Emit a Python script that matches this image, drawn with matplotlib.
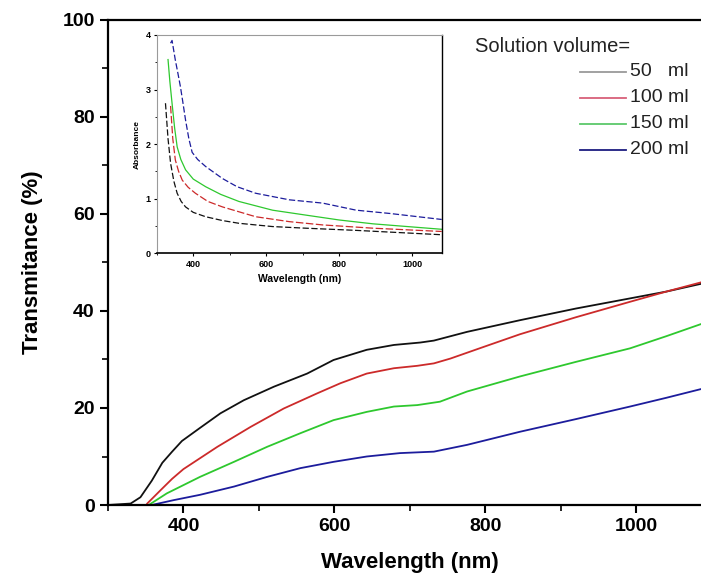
import matplotlib

matplotlib.use("Agg")
import matplotlib.pyplot as plt
from matplotlib.ticker import MultipleLocator

plt.rcParams["font.family"] = ["Liberation Sans", "DejaVu Sans"]

# main panel: transmittance (%) vs wavelength (nm)
WL_50 = [300, 330, 343, 358, 372, 385, 398, 422, 449, 480, 520, 564, 599, 643, 679, 714, 732, 776, 846, 920, 992, 1040, 1086]
T_50 = [0.0, 0.3, 1.6, 5.0, 8.7, 11.0, 13.2, 15.9, 18.9, 21.6, 24.4, 27.1, 29.9, 32.0, 33.0, 33.5, 33.9, 35.7, 38.1, 40.5, 42.6, 44.0, 45.6]

WL_100 = [352, 370, 385, 400, 445, 489, 533, 577, 608, 643, 679, 710, 732, 754, 798, 846, 920, 992, 1040, 1086]
T_100 = [0.3, 3.1, 5.4, 7.4, 12.0, 16.1, 19.9, 23.0, 25.1, 27.1, 28.2, 28.7, 29.2, 30.2, 32.6, 35.2, 38.7, 41.9, 44.0, 45.9]

WL_150 = [356, 378, 422, 467, 511, 555, 599, 643, 679, 710, 740, 776, 846, 920, 992, 1040, 1086]
T_150 = [0.2, 2.4, 5.8, 8.9, 12.0, 14.8, 17.5, 19.2, 20.3, 20.6, 21.3, 23.4, 26.5, 29.5, 32.3, 34.8, 37.3]

WL_200 = [361, 387, 422, 467, 511, 555, 599, 643, 687, 732, 776, 846, 920, 992, 1040, 1086]
T_200 = [0.1, 1.0, 2.1, 3.8, 5.8, 7.6, 8.9, 10.0, 10.7, 11.0, 12.4, 15.1, 17.7, 20.3, 22.1, 23.9]

# inset: absorbance vs wavelength (nm)
IWL_50 = [324, 331, 338, 347, 356, 367, 379, 400, 434, 480, 525, 617, 708, 846, 1080]
A_50 = [2.75, 2.10, 1.65, 1.32, 1.10, 0.95, 0.85, 0.75, 0.67, 0.60, 0.55, 0.49, 0.46, 0.42, 0.34]
IWL_100 = [338, 344, 351, 360, 370, 386, 406, 440, 480, 571, 663, 754, 892, 1080]
A_100 = [2.70, 2.10, 1.71, 1.50, 1.34, 1.21, 1.10, 0.95, 0.85, 0.67, 0.58, 0.52, 0.46, 0.40]
IWL_150 = [331, 336, 342, 349, 356, 366, 379, 400, 434, 475, 525, 617, 708, 800, 892, 1080]
A_150 = [3.55, 3.15, 2.75, 2.30, 1.95, 1.72, 1.53, 1.36, 1.22, 1.08, 0.95, 0.79, 0.70, 0.61, 0.54, 0.44]
IWL_200 = [338, 342, 351, 358, 365, 372, 379, 388, 397, 412, 434, 480, 520, 571, 663, 754, 846, 938, 1080]
A_200 = [3.85, 3.90, 3.54, 3.30, 3.05, 2.75, 2.44, 2.10, 1.85, 1.72, 1.59, 1.37, 1.22, 1.10, 0.98, 0.92, 0.79, 0.73, 0.62]

LABELS = ["50   ml", "100 ml", "150 ml", "200 ml"]
COLORS = ["#111111", "#cc2a2a", "#2ec82e", "#1c1c9c"]
LEG_COLORS = ["#9a9a9a", "#d8607a", "#5cc86a", "#1c1c80"]

fig = plt.figure(figsize=(7.01, 5.85), dpi=100)
ax = fig.add_axes([108 / 701, 80 / 585, 603.5 / 701, 485 / 585])

main = [(WL_50, T_50), (WL_100, T_100), (WL_150, T_150), (WL_200, T_200)]
for (x, y), c in zip(main, COLORS):
    ax.plot(x, y, color=c, linewidth=1.3)

ax.set_xlim(300, 1100)
ax.set_ylim(0, 100)
ax.xaxis.set_major_locator(MultipleLocator(200))
ax.xaxis.set_minor_locator(MultipleLocator(100))
ax.yaxis.set_major_locator(MultipleLocator(20))
ax.yaxis.set_minor_locator(MultipleLocator(10))
ax.tick_params(which="major", direction="out", length=6, width=1.5, labelsize=14)
ax.tick_params(which="minor", direction="out", length=4, width=1.2)
for lab in ax.get_xticklabels() + ax.get_yticklabels():
    lab.set_fontweight("bold")
for sp in ax.spines.values():
    sp.set_linewidth(1.6)
ax.set_xlabel("Wavelength (nm)", fontsize=16, fontweight="bold", labelpad=12)
ax.set_ylabel("Transmitance (%)", fontsize=16, fontweight="bold", labelpad=14)

# legend drawn by hand in figure coords
fig.text(475 / 701, 1 - 46 / 585, "Solution volume=", fontsize=14.5, va="center", color="#222")
for i, (lab, c) in enumerate(zip(LABELS, LEG_COLORS)):
    yf = 1 - (72 + i * 26) / 585
    fig.add_artist(plt.Line2D([580 / 701, 626 / 701], [yf, yf], color=c, linewidth=1.3,
                              transform=fig.transFigure))
    fig.text(630 / 701, yf, lab, fontsize=14, va="center", color="#222")

ins = fig.add_axes([156.7 / 701, 1 - 253.3 / 585, 285 / 701, 218.3 / 585])
inset = [(IWL_50, A_50), (IWL_100, A_100), (IWL_150, A_150), (IWL_200, A_200)]
styles = [(0, (5, 2)), (0, (6, 2)), "-", (0, (5, 2))]
for (x, y), c, ls in zip(inset, COLORS, styles):
    ins.plot(x, y, color=c, linewidth=0.9, linestyle=ls)
ins.set_xlim(300, 1080)
ins.set_ylim(0, 4)
ins.xaxis.set_major_locator(MultipleLocator(200))
ins.xaxis.set_minor_locator(MultipleLocator(100))
ins.yaxis.set_major_locator(MultipleLocator(1))
ins.yaxis.set_minor_locator(MultipleLocator(0.5))
ins.tick_params(which="major", direction="out", length=2.5, width=0.8, labelsize=6.5, pad=2)
ins.tick_params(which="minor", direction="out", length=1.5, width=0.6)
for lab in ins.get_xticklabels() + ins.get_yticklabels():
    lab.set_fontweight("bold")
ins.spines["left"].set_color("#9a9a9a")
ins.spines["top"].set_color("#9a9a9a")
ins.spines["bottom"].set_linewidth(1.2)
ins.spines["right"].set_linewidth(1.0)
ins.set_xlabel("Wavelength (nm)", fontsize=7.5, fontweight="bold", labelpad=4)
ins.set_ylabel("Absorbance", fontsize=6, fontweight="bold", labelpad=3)

fig.savefig("out.png", dpi=100)
